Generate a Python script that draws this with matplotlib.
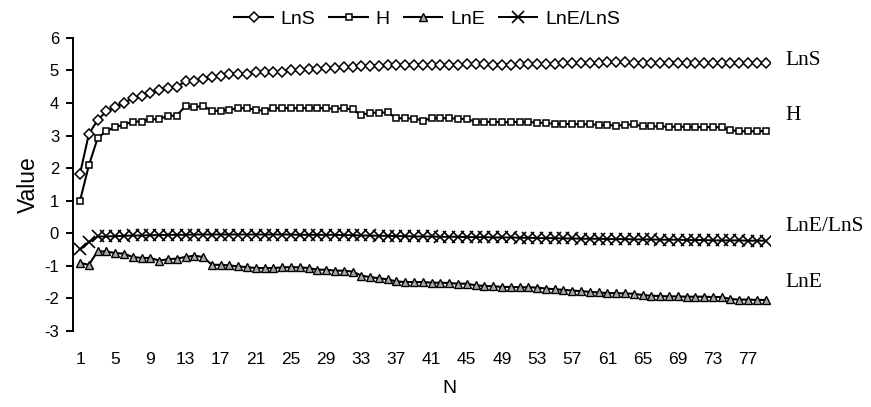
import numpy as np
import matplotlib.pyplot as plt

plt.rcParams['font.family'] = ['Liberation Sans', 'DejaVu Sans']
plt.rcParams['axes.unicode_minus'] = False

# series values, N = 1..79
lns = [1.83, 3.04, 3.48, 3.74, 3.87, 4.00, 4.15, 4.22, 4.32, 4.40,
       4.45, 4.50, 4.66, 4.68, 4.73, 4.79, 4.83, 4.89, 4.89, 4.89,
       4.95, 4.95, 4.95, 4.95, 5.01, 5.01, 5.03, 5.05, 5.07, 5.08,
       5.10, 5.12, 5.14, 5.15, 5.15, 5.16, 5.16, 5.17, 5.17, 5.17,
       5.18, 5.18, 5.18, 5.18, 5.19, 5.19, 5.19, 5.18, 5.18, 5.18,
       5.19, 5.20, 5.20, 5.20, 5.21, 5.22, 5.22, 5.23, 5.23, 5.24,
       5.25, 5.25, 5.25, 5.24, 5.24, 5.24, 5.24, 5.24, 5.24, 5.24,
       5.24, 5.23, 5.23, 5.23, 5.23, 5.23, 5.23, 5.23, 5.22]

h = [1.00, 2.08, 2.92, 3.14, 3.26, 3.33, 3.43, 3.43, 3.50, 3.50,
     3.61, 3.61, 3.91, 3.87, 3.91, 3.76, 3.76, 3.79, 3.84, 3.84,
     3.79, 3.76, 3.84, 3.84, 3.84, 3.84, 3.84, 3.84, 3.84, 3.82,
     3.84, 3.80, 3.63, 3.70, 3.70, 3.71, 3.53, 3.53, 3.52, 3.46,
     3.53, 3.53, 3.53, 3.52, 3.50, 3.43, 3.42, 3.42, 3.41, 3.41,
     3.42, 3.41, 3.40, 3.38, 3.36, 3.36, 3.35, 3.35, 3.34, 3.33,
     3.33, 3.30, 3.33, 3.34, 3.29, 3.28, 3.28, 3.27, 3.27, 3.27,
     3.26, 3.26, 3.26, 3.25, 3.17, 3.13, 3.13, 3.13, 3.14]

lne = [-0.91, -0.97, -0.56, -0.56, -0.61, -0.63, -0.73, -0.76, -0.76, -0.84,
       -0.80, -0.78, -0.73, -0.69, -0.73, -0.97, -0.97, -0.99, -1.02, -1.04,
       -1.07, -1.07, -1.07, -1.05, -1.04, -1.05, -1.07, -1.12, -1.12, -1.15,
       -1.15, -1.18, -1.30, -1.35, -1.38, -1.42, -1.48, -1.50, -1.50, -1.50,
       -1.52, -1.52, -1.53, -1.55, -1.55, -1.60, -1.62, -1.63, -1.65, -1.65,
       -1.66, -1.66, -1.67, -1.70, -1.72, -1.74, -1.76, -1.78, -1.80, -1.82,
       -1.84, -1.84, -1.85, -1.86, -1.90, -1.92, -1.93, -1.94, -1.94, -1.95,
       -1.95, -1.95, -1.96, -1.96, -2.02, -2.04, -2.04, -2.05, -2.05]

ratio = [-0.50, -0.27, -0.10, -0.10, -0.09, -0.08, -0.07, -0.07, -0.06, -0.06,
         -0.05, -0.05, -0.05, -0.04, -0.04, -0.04, -0.04, -0.04, -0.04, -0.04,
         -0.04, -0.04, -0.04, -0.04, -0.04, -0.05, -0.05, -0.05, -0.05, -0.05,
         -0.06, -0.06, -0.07, -0.07, -0.08, -0.08, -0.09, -0.09, -0.10, -0.10,
         -0.10, -0.11, -0.11, -0.11, -0.12, -0.12, -0.12, -0.13, -0.13, -0.13,
         -0.14, -0.14, -0.15, -0.15, -0.15, -0.16, -0.16, -0.17, -0.17, -0.17,
         -0.18, -0.18, -0.18, -0.19, -0.19, -0.19, -0.20, -0.20, -0.20, -0.21,
         -0.21, -0.21, -0.22, -0.22, -0.22, -0.22, -0.23, -0.23, -0.23]

n = np.arange(1, len(lns) + 1)
xtick_labels = [str(i) for i in range(1, 78, 4)]

fig = plt.figure(figsize=(8.71, 4.07), dpi=100)
ax = fig.add_axes([73 / 871, 0.187, 697 / 871, 0.72])

ax.plot(n, lns, color='black', lw=1.5, marker='D', ms=4.6, mfc='white',
        mec='black', mew=1.1, label='LnS')
ax.plot(n, h, color='black', lw=1.5, marker='s', ms=4.8, mfc='white',
        mec='black', mew=1.1, label='H')
ax.plot(n, lne, color='black', lw=1.5, marker='^', ms=5.5, mfc='#a8a8a8',
        mec='black', mew=1.0, label='LnE')
ax.plot(n, ratio, color='black', lw=1.4, marker='x', ms=8.5, mew=1.2,
        label='LnE/LnS')

ax.set_xlim(0.2, 79.5)
ax.set_ylim(-3, 6)
ax.set_yticks(range(-3, 7))
ax.set_xticks(range(1, 78, 4))
ax.set_xticklabels(xtick_labels)

for side in ['top', 'right', 'bottom']:
    ax.spines[side].set_visible(False)
ax.spines['left'].set_linewidth(1.4)
ax.tick_params(axis='y', direction='out', length=5, width=1.4, labelsize=12, pad=5)
ax.tick_params(axis='x', length=0, labelsize=12.5, pad=15)

ax.set_ylabel('Value', fontsize=16.5)
ax.yaxis.set_label_coords(-0.047, 0.5)
ax.set_xlabel('N', fontsize=14)
ax.xaxis.set_label_coords(0.54, -0.167)

# series names at the right end
right_labels = ['LnS', 'H', 'LnE/LnS', 'LnE']
right_y = [5.3, 3.63, 0.2, -1.5]
for lab, yv in zip(right_labels, right_y):
    ax.text(81.2, yv, lab, fontsize=15.5, family='Liberation Serif',
            va='center', ha='left', clip_on=False)

ax.legend(loc='lower center', bbox_to_anchor=(0.508, 1.0), ncol=4, frameon=False,
          fontsize=14, handlelength=2.0, handletextpad=0.4, columnspacing=0.7,
          borderaxespad=0.1)

fig.savefig('out.png', dpi=100)
